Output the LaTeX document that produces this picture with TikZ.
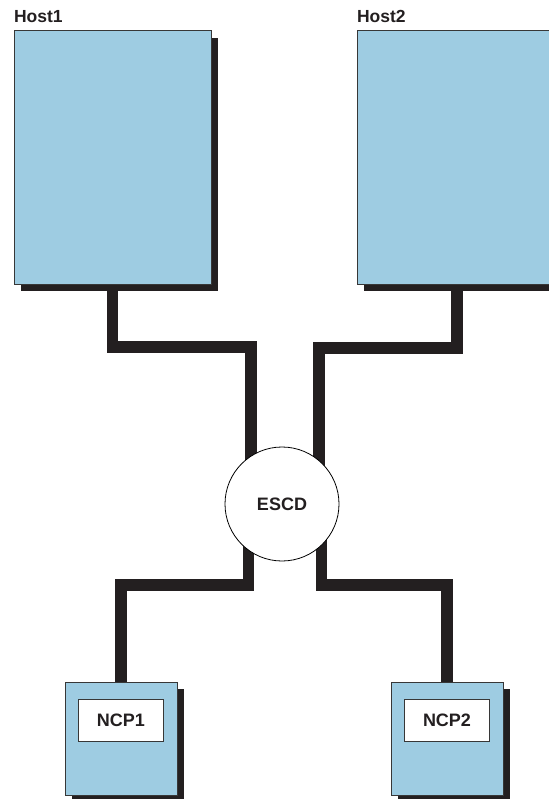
\documentclass[tikz,border=0pt]{standalone}
\usepackage{fontspec}
\setmainfont{Liberation Sans}
\usepackage{tikz}
\usetikzlibrary{positioning, shadows, backgrounds}

\definecolor{hostblue}{RGB}{158,204,226}
\definecolor{cableblack}{RGB}{35,31,32}
\definecolor{boxedge}{RGB}{55,55,55}

\begin{document}
\begin{tikzpicture}[
        x=1pt, y=-1pt,
        every node/.style={outer sep=0pt, text=cableblack},
        host/.style={rectangle, draw=boxedge, line width=1pt, fill=hostblue,
                     minimum width=197pt, minimum height=253pt, anchor=north west,
                     drop shadow={shadow xshift=7pt, shadow yshift=-7pt, fill=cableblack, opacity=1}},
        ncp/.style={rectangle, draw=boxedge, line width=1pt, fill=hostblue,
                    minimum width=112pt, minimum height=113pt, anchor=north west,
                    drop shadow={shadow xshift=7pt, shadow yshift=-7pt, fill=cableblack, opacity=1}},
        ncplabel/.style={rectangle, draw=boxedge, line width=0.8pt, fill=white,
                         minimum width=85pt, minimum height=42pt, inner sep=0pt,
                         font=\fontsize{18}{20}\selectfont\bfseries},
        hostlabel/.style={anchor=base west, inner sep=0pt, font=\fontsize{17.5}{20}\selectfont\bfseries},
        switch/.style={circle, draw=black, line width=0.8pt, fill=white, minimum size=114pt,
                       inner sep=0pt, font=\fontsize{18}{20}\selectfont\bfseries},
        cable/.style={draw=cableblack, line width=11.5pt, line join=miter}
    ]
        \useasboundingbox (0,0) rectangle (548,799);

        \node[host] (host1) at (14,31) {};
        \node[host] (host2) at (357,31) {};
        \node[hostlabel] at ([yshift=8pt]host1.north west) {Host1};
        \node[hostlabel] at ([yshift=8pt]host2.north west) {Host2};

        \node[switch] (escd) at (282,504) {ESCD};

        \node[ncp] (ncp1) at (65,682) {};
        \node[ncp] (ncp2) at (391,682) {};
        \node[ncplabel, below=17pt of ncp1.north] (ncp1lbl) {NCP1};
        \node[ncplabel, below=17pt of ncp2.north] (ncp2lbl) {NCP2};

        % cables run behind the boxes and the switch
        \begin{scope}[on background layer]
            \draw[cable] (host1.south) -- ++(0,63) -| ([xshift=-31pt]escd.center);
            \draw[cable] ([xshift=1.5pt]host2.south) -- ++(0,64) -| ([xshift=37pt]escd.center);
            \draw[cable] (ncp1.north) -- ++(0,-97) -| ([xshift=-33.5pt]escd.center);
            \draw[cable] (ncp2.north) -- ++(0,-97) -| ([xshift=39.5pt]escd.center);
        \end{scope}
    \end{tikzpicture}
\end{document}
